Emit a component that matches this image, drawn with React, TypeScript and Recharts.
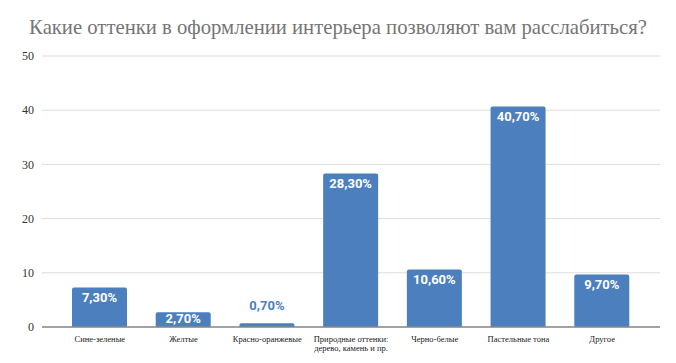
import React from 'react';
import { BarChart, Bar, XAxis, YAxis, CartesianGrid, LabelList } from 'recharts';

const categories = [
  'Сине-зеленые',
  'Желтые',
  'Красно-оранжевые',
  'Природные оттенки:\nдерево, камень и пр.',
  'Черно-белые',
  'Пастельные тона',
  'Другое',
];
const values = [7.3, 2.7, 0.7, 28.3, 10.6, 40.7, 9.7];
const valueLabels = ['7,30%', '2,70%', '0,70%', '28,30%', '10,60%', '40,70%', '9,70%'];
const yTicks = [0, 10, 20, 30, 40, 50];

const data = categories.map((c, i) => ({ name: c, value: values[i], label: valueLabels[i] }));

const BLUE = '#4b7fbe';

const XTick = (props: any) => {
  const { x, y, payload } = props;
  const lines = String(payload.value).split('\n');
  return (
    <g transform={`translate(${x},${y})`}>
      {lines.map((l, i) => (
        <text key={i} x={0} y={i * 9} dy={7} textAnchor="middle" fontFamily="'Liberation Serif', serif" fontSize={8.5} fill="#222">
          {l}
        </text>
      ))}
    </g>
  );
};

const ValueLabel = (props: any) => {
  const { x, y, width, height, index } = props;
  const text = valueLabels[index];
  const inside = height > 10;
  const cy = inside ? Math.min(y + 10, y + height - 9) : y - 18;
  return (
    <text
      x={x + width / 2}
      y={cy}
      dy={4.5}
      textAnchor="middle"
      fontFamily="Roboto, sans-serif"
      fontWeight="bold"
      fontSize={13}
      fill={inside ? '#ffffff' : BLUE}
    >
      {text}
    </text>
  );
};

export default function App() {
  return (
    <div style={{ position: 'absolute', left: 0, top: 0, width: 676, height: 363, background: '#fff' }}>
      <div
        style={{
          position: 'absolute',
          left: 0,
          top: 16,
          width: 676,
          textAlign: 'center',
          fontFamily: "'Liberation Serif', serif",
          fontSize: 20.7,
          color: '#757575',
        }}
      >
        Какие оттенки в оформлении интерьера позволяют вам расслабиться?
      </div>
      <BarChart width={676} height={363} data={data} margin={{ top: 56, right: 16, bottom: 6, left: 0 }} barSize={55}>
        <CartesianGrid horizontal vertical={false} stroke="#dddddd" />
        <XAxis
          dataKey="name"
          interval={0}
          padding={{ left: 16, right: 16 }}
          axisLine={{ stroke: '#888888', strokeWidth: 1.5 }}
          tickLine={false}
          height={30}
          tick={<XTick />}
        />
        <YAxis
          domain={[0, 50]}
          ticks={yTicks}
          width={42}
          axisLine={false}
          tickLine={false}
          tick={{ fontFamily: "'Liberation Serif', serif", fontSize: 12, fill: '#333' }}
        />
        <Bar dataKey="value" fill={BLUE} radius={[2, 2, 0, 0]} isAnimationActive={false}>
          <LabelList dataKey="value" content={<ValueLabel />} />
        </Bar>
      </BarChart>
    </div>
  );
}
